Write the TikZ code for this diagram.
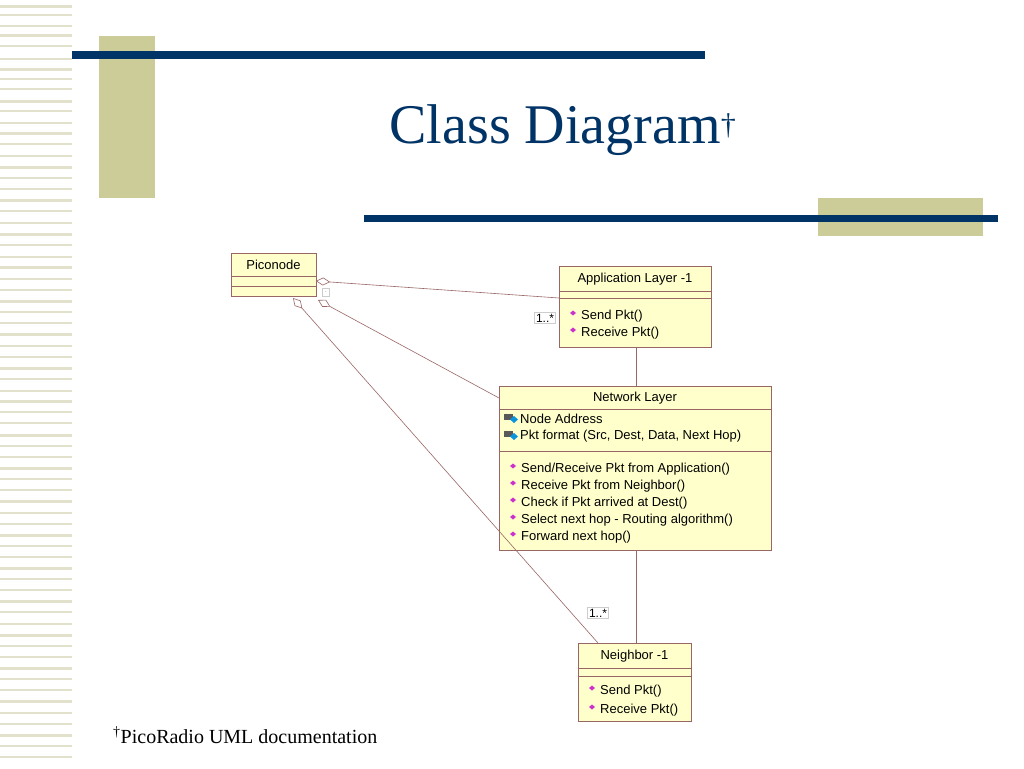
\documentclass[tikz,border=0pt]{standalone}
\usepackage{fontspec}
\setmainfont{Liberation Serif}
\newfontfamily\umlfont{Liberation Sans}
\usetikzlibrary{arrows.meta}
\definecolor{navy}{HTML}{003366}
\definecolor{khaki}{HTML}{CCCC99}
\definecolor{stripe}{HTML}{E2E2CC}
\definecolor{umlfill}{HTML}{FFFFCC}
\definecolor{umlline}{HTML}{996666}
\definecolor{meth}{HTML}{CC33CC}
\tikzset{
  umlbox/.style={draw=umlline, fill=umlfill, line width=0.8pt},
  umltxt/.style={font=\umlfont\fontsize{13}{13}\selectfont, inner sep=0pt, anchor=west},
  umlhead/.style={font=\umlfont\fontsize{13}{13}\selectfont, inner sep=0pt},
  assoc/.style={draw=umlline, line width=0.6pt},
  agg/.style={assoc, {Diamond[open, length=14pt, width=8pt, fill=white]}-},
  mult/.style={font=\umlfont\fontsize{12}{12}\selectfont, draw=gray!40, fill=white, inner sep=1.5pt},
  mk/.style={fill=meth, draw=meth!70!black, line width=0.3pt},
}
\newcommand{\methmark}[1]{\fill[meth] ($(#1)+(-5,0)$) -- ++(3,-2.5) -- ++(3,2.5) -- ++(-3,2.5) -- cycle;}
\usetikzlibrary{calc}
\begin{document}
\begin{tikzpicture}[x=1pt,y=-1pt]
\useasboundingbox (0,0) rectangle (1024,768);
\fill[white] (0,0) rectangle (1024,768);
% left stripes
\foreach \y/\h in {5/3,14/2,25/2,34/3,45/2,58/2,68/3,78/2,88/2,100/3,110/2,122/2,132/3,143/2,155/2,166/3,177/2,188/2,199/3,210/2,222/2,233/3,244/2,256/2,266/3,278/2,289/2,300/3,311/2,322/2,333/3,345/2,356/2,367/3,378/2,390/2,400/3,411/2,422/2,434/3,445/2,456/2,467/3,478/2,489/2,500/3,512/2,523/2,534/3,545/2,556/2,567/3,578/2,589/2,600/3,611/2,623/2,634/3,645/2,656/2,667/3,678/2,689/2,700/3,712/2,723/2,734/3,745/2,756/2}
  \fill[stripe] (0,\y) rectangle (72,\y+\h);
% decorations
\fill[khaki] (99,36) rectangle (155,198);
\fill[navy] (72,51) rectangle (705,59);
\fill[khaki] (818,198) rectangle (983,236);
\fill[navy] (364,215) rectangle (998,222);
\node[navy, font=\fontsize{56}{56}\selectfont, inner sep=0pt] (title) at (563,130) {Class Diagram\textsuperscript{\fontsize{30}{30}\selectfont†}};
\node[font=\fontsize{20}{20}\selectfont, inner sep=0pt, anchor=west] (foot) at (113,735) {\textsuperscript{†}PicoRadio UML documentation};
% Piconode
\draw[umlbox] (231,253) rectangle (316,296);
\draw[umlline] (231,276) -- (316,276) (231,286) -- (316,286);
\node[umlhead] (pico) at (273.5,265) {Piconode};
\coordinate (picoR) at (316,281);
\coordinate (picoB1) at (293,298);
\coordinate (picoB2) at (318,300);
% Application Layer
\draw[umlbox] (559,266) rectangle (711,347);
\draw[umlline] (559,291) -- (711,291) (559,298) -- (711,298);
\node[umlhead] (app) at (635,279) {Application Layer -1};
\methmark{575,313}\node[umltxt] at (581,316) {Send Pkt()};
\methmark{575,330}\node[umltxt] at (581,333) {Receive Pkt()};
\coordinate (appL) at (559,298);
\coordinate (appB) at (636,347);
% Network Layer
\draw[umlbox] (499,386) rectangle (771,550);
\draw[umlline] (499,409) -- (771,409) (499,451) -- (771,451);
\node[umlhead] (net) at (635,398) {Network Layer};
\foreach \y/\t in {419/Node Address,436/{Pkt format (Src, Dest, Data, Next Hop)}}{
  \fill[gray!70!black] (504,\y-5) rectangle (513,\y+1);
  \draw[gray!70!black, line width=1pt] (506,\y-5) arc (180:0:2.5);
  \fill[cyan!80!blue] (514,\y-3) -- ++(4,3.5) -- ++(-4,3.5) -- ++(-4,-3.5) -- cycle;
  \node[umltxt] at (520,\y) {\t};
}
\foreach \y/\t in {469/Send\slash Receive Pkt from Application(),486/Receive Pkt from Neighbor(),503/Check if Pkt arrived at Dest(),520/Select next hop - Routing algorithm(),537/Forward next hop()}{
  \methmark{515,\y-3}\node[umltxt] at (521,\y) {\t};
}
\coordinate (netL) at (499,398);
\coordinate (netT) at (636,386);
\coordinate (netB) at (636,550);
% Neighbor
\draw[umlbox] (578,643) rectangle (691,721);
\draw[umlline] (578,668) -- (691,668) (578,676) -- (691,676);
\node[umlhead] (nb) at (634.5,656) {Neighbor -1};
\methmark{594,688}\node[umltxt] at (600,691) {Send Pkt()};
\methmark{594,707}\node[umltxt] at (600,710) {Receive Pkt()};
\coordinate (nbT) at (636,643);
\coordinate (nbTL) at (598,643);
% connectors
\draw[agg] (picoR) -- (appL);
\draw[agg] (picoB2) -- (netL);
\draw[agg] (picoB1) -- (nbTL);
\draw[assoc] (appB) -- (netT);
\draw[assoc] (netB) -- (nbT);
\node[mult] (m1) at (545,318) {1..*};
\node[mult] (m2) at (598,613) {1..*};
\node[draw=gray!40, fill=white, minimum width=7pt, minimum height=8pt, inner sep=0pt, font=\tiny] (dot) at (326,292) {.};
\end{tikzpicture}
\end{document}
